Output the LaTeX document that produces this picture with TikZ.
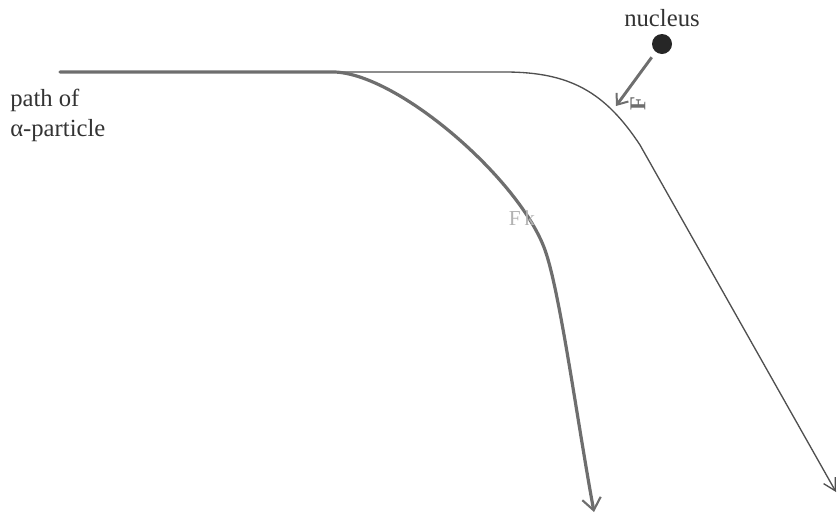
\documentclass[tikz,border=0pt]{standalone}
\usepackage{fontspec}
\setmainfont{Liberation Serif}
\usetikzlibrary{arrows.meta}
\definecolor{thinline}{HTML}{505050}
\definecolor{thickline}{HTML}{6E6E6E}
\begin{document}
\begin{tikzpicture}[x=0.75pt,y=-0.75pt,
  lbl/.style={font=\fontsize{18.5pt}{20pt}\selectfont, text=black!80, inner sep=0pt},
  thinpath/.style={draw=thinline, line width=1pt, -{Straight Barb[length=9pt,width=10pt]}},
  thickpath/.style={draw=thickline, line width=2.4pt, line cap=round, -{Straight Barb[length=9pt,width=14pt,line width=1.6pt]}},
  force/.style={draw=thickline, line width=2.2pt, -{Straight Barb[length=7pt,width=11pt,line width=1.5pt]}}]
\useasboundingbox (0,0) rectangle (839,519);
% labels
\node[lbl, anchor=base west] (path1) at (10,106) {path of};
\node[lbl, anchor=base west] (path2) at (10,136) {α-particle};
\node[lbl, anchor=base] (nuclbl) at (662,26) {nucleus};
\node[circle, fill=black!85, minimum size=15pt, inner sep=0pt] (nuc) at (662,44) {};
% paths
\coordinate (start) at (60,72);
\coordinate (thinend) at (836,492);
\coordinate (thickend) at (594,512);
\draw[thinpath] (start) -- (505,72) .. controls (570,72) and (605,92) .. (640,145) -- (thinend);
\draw[thickpath] (start) -- (335,72) .. controls (400,75) and (520,180) .. (545,250)
   .. controls (560,292) and (577,420) .. (thickend);
% force on alpha particle
\coordinate (fend) at (616,106);
\draw[force] (nuc.south west) ++(-3,6) -- (fend);
\node[font=\fontsize{17pt}{17pt}\selectfont\bfseries, text=thickline, rotate=90, inner sep=0pt] (F1) at (638,104) {F};
\node[font=\fontsize{16pt}{16pt}\selectfont, text=black!30, inner sep=0pt] (F2) at (522,218) {F\,k};
\end{tikzpicture}
\end{document}
